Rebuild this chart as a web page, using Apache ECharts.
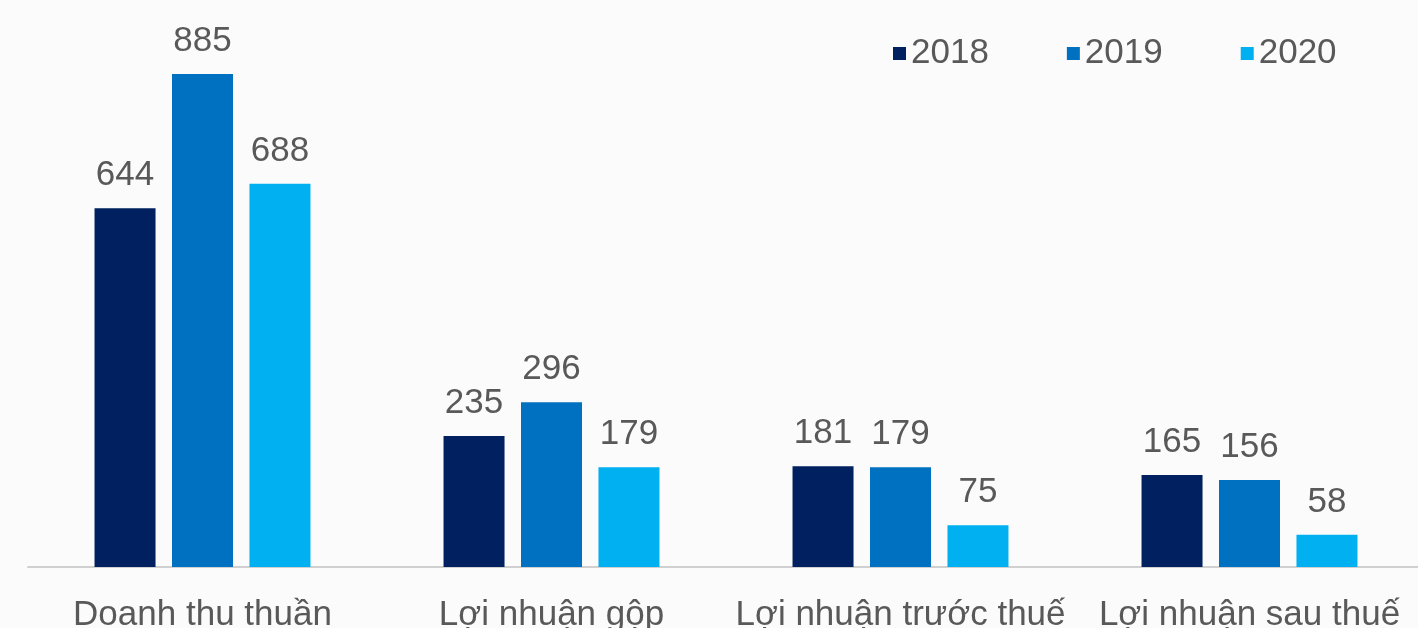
<!DOCTYPE html>
<html><head><meta charset="utf-8">
<script src="https://cdn.jsdelivr.net/npm/echarts@6/dist/echarts.min.js"></script>
<style>html,body{margin:0;padding:0;background:#fbfbfb}#c{width:1418px;height:628px}</style>
</head><body><div id="c"></div>
<script>
const categories = ["Doanh thu thuần", "Lợi nhuận gộp", "Lợi nhuận trước thuế", "Lợi nhuận sau thuế"];
const seriesNames = ["2018", "2019", "2020"];
const values2018 = [644, 235, 181, 165];
const values2019 = [885, 296, 179, 156];
const values2020 = [688, 179, 75, 58];
const colors = ["#002060", "#0070C0", "#00B0F0"];
const font = "Liberation Sans, Arial, sans-serif";
const chart = echarts.init(document.getElementById('c'));
const data = [values2018, values2019, values2020];
chart.setOption({
  backgroundColor: '#fbfbfb',
  animation: false,
  legend: {
    top: 31, left: 888,
    itemWidth: 13, itemHeight: 13, itemGap: 78,
    icon: 'rect',
    textStyle: { fontFamily: font, fontSize: 35, color: '#595959', padding: [0,0,0,0] },
    data: seriesNames
  },
  grid: { left: 28, right: -6, top: 10, bottom: 61, containLabel: false, outerBoundsMode: 'none' },
  xAxis: {
    type: 'category', data: categories,
    axisLine: { lineStyle: { color: '#d0d0d0', width: 2 } },
    axisTick: { show: false },
    axisLabel: { fontFamily: font, fontSize: 35, color: '#595959', margin: 31, interval: 0 }
  },
  yAxis: { type: 'value', min: 0, max: 1000, show: false, splitLine: { show: false } },
  series: seriesNames.map((n, i) => ({
    name: n, type: 'bar', data: data[i], barWidth: 61, barGap: '27%',
    itemStyle: { color: colors[i] },
    label: { show: true, position: 'top', distance: 15, fontFamily: font, fontSize: 35, color: '#595959' }
  }))
});
</script></body></html>
